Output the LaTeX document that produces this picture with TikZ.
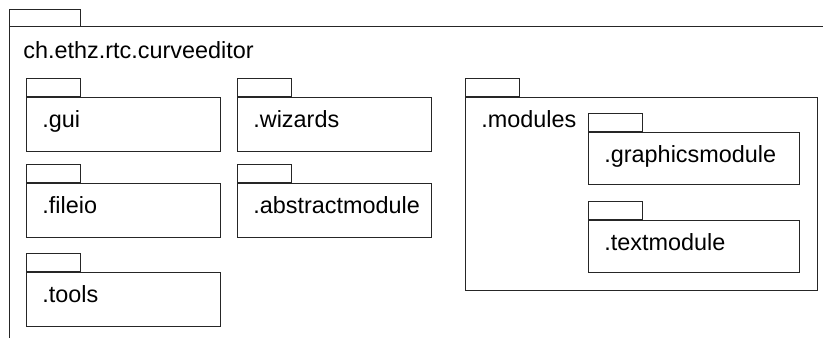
\documentclass[tikz,border=0pt]{standalone}
\usepackage{fontspec}
\setmainfont{Liberation Sans}
\usetikzlibrary{positioning}
\tikzset{
    pkg box/.style={
        draw=black!85,
        line width=0.5pt,
        anchor=north west,
        inner sep=0pt
    },
    pkg tab/.style={
        draw=black!85,
        line width=0.5pt,
        inner sep=0pt,
        minimum width=27pt,
        minimum height=9pt,
        anchor=south west
    },
    pkg name/.style={
        anchor=base west,
        inner sep=0pt,
        font=\fontsize{11.7}{14}\selectfont
    }
}
\begin{document}
\begin{tikzpicture}[x=0.5pt,y=-0.5pt]
    \useasboundingbox (0,0) rectangle (823,338);
    % outer package
    \node[pkg tab, anchor=north west, minimum width=35.5pt, minimum height=8.5pt] (root-tab) at (9,9) {};
    \draw[black!85, line width=0.5pt] (9,338) |- (830,26);
    \node[pkg name] (root-name) at (23,58) {ch.ethz.rtc.curveeditor};
    % small packages
    \foreach \n/\x/\y/\t in {gui/26/97/.gui, fileio/26/183/.fileio, tools/26/272/.tools,
                             wizards/237/97/.wizards, abstract/237/183/.abstractmodule}
    {
        \node[pkg box, minimum width=97pt, minimum height=27pt] (\n) at (\x,\y) {};
        \node[pkg tab] (\n-tab) at (\n.north west) {};
        \node[pkg name] (\n-name) at ([shift={(8pt,-15pt)}]\n.north west) {\t};
    }
    % modules
    \node[pkg box, minimum width=176pt, minimum height=96.5pt] (modules) at (465,97) {};
    \node[pkg tab] (modules-tab) at (modules.north west) {};
    \node[pkg name] (modules-name) at ([shift={(8pt,-15pt)}]modules.north west) {.modules};
    \foreach \n/\y/\t in {graphics/132/.graphicsmodule, text/220/.textmodule}
    {
        \node[pkg box, minimum width=105.5pt, minimum height=26pt] (\n) at (588,\y) {};
        \node[pkg tab] (\n-tab) at (\n.north west) {};
        \node[pkg name] (\n-name) at ([shift={(8pt,-15pt)}]\n.north west) {\t};
    }
\end{tikzpicture}
\end{document}
